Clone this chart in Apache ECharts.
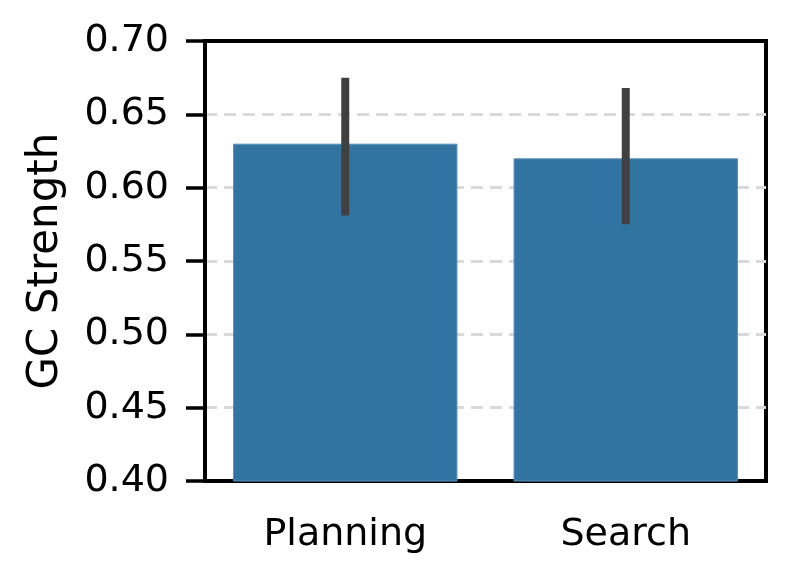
<!DOCTYPE html>
<html>
<head>
<meta charset="utf-8">
<script src="https://cdn.jsdelivr.net/npm/echarts@6/dist/echarts.min.js"></script>
<style>
  html, body { margin: 0; padding: 0; background: #fff; }
  #chart { width: 792px; height: 580px; }
</style>
</head>
<body>
<div id="chart"></div>
<script>
  // data
  const categories = ["Planning", "Search"];
  const means = [0.630, 0.620];
  const ciLow = [0.581, 0.575];
  const ciHigh = [0.675, 0.668];

  const font = "DejaVu Sans";
  const myChart = echarts.init(document.getElementById("chart"));

  const option = {
    animation: false,
    grid: {
      left: 205, right: 26, top: 41, bottom: 99,
      show: true, borderColor: "#000", borderWidth: 4
    },
    xAxis: {
      type: "category",
      data: categories,
      axisLine: { lineStyle: { color: "#000", width: 4 } },
      axisTick: { alignWithLabel: true, length: 18, lineStyle: { color: "#000", width: 3.5 } },
      axisLabel: { color: "#000", fontSize: 38, fontFamily: font, margin: 35 }
    },
    yAxis: {
      type: "value",
      min: 0.40, max: 0.70, interval: 0.05,
      name: "GC Strength",
      nameLocation: "middle",
      nameGap: 138,
      nameTextStyle: { color: "#000", fontSize: 42, fontFamily: font },
      axisLine: { show: true, lineStyle: { color: "#000", width: 4 } },
      axisTick: { show: true, length: 19, lineStyle: { color: "#000", width: 3.5 } },
      axisLabel: {
        color: "#000", fontSize: 38, fontFamily: font, margin: 36,
        formatter: v => v.toFixed(2)
      },
      splitLine: {
        show: true, showMinLine: false, showMaxLine: false,
        lineStyle: { color: "#d9d9d9", width: 3, type: [12, 7] }
      }
    },
    series: [
      {
        type: "bar",
        data: means,
        barWidth: "80%",
        itemStyle: { color: "#3274a1", borderColor: "#5b8fb8", borderWidth: 1 }
      },
      {
        type: "custom",
        data: categories.map((c, i) => [i, ciLow[i], ciHigh[i]]),
        renderItem: function (params, api) {
          const lo = api.coord([api.value(0), api.value(1)]);
          const hi = api.coord([api.value(0), api.value(2)]);
          return {
            type: "line",
            shape: { x1: lo[0], y1: lo[1], x2: hi[0], y2: hi[1] },
            style: { stroke: "#404040", lineWidth: 8 }
          };
        },
        z: 5
      }
    ]
  };

  myChart.setOption(option);
</script>
</body>
</html>
